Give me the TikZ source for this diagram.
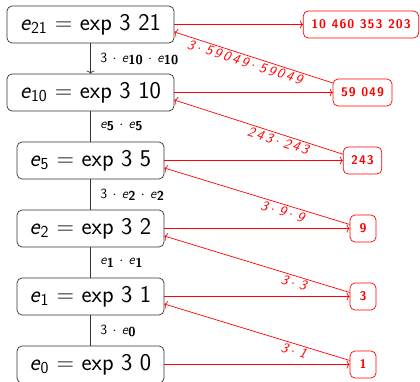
\documentclass[tikz,border=0pt]{standalone}
\usepackage{fontspec}
\usetikzlibrary{arrows.meta}
\newfontfamily\valfont{lmsans10-bold.otf}[LetterSpace=8]
\newfontfamily\slfont{lmsans10-oblique.otf}[LetterSpace=17]
\newcommand\mainE[1]{\textit{e}\textsubscript{#1}}
\newcommand\lblE[1]{\textit{e}\raisebox{-0.35ex}{\fontsize{13}{14}\selectfont\bfseries #1}}
\newcommand\dt{\hspace{5.3pt}$\cdot$\hspace{5.3pt}}
\newcommand\ddt{\hspace{3.5pt}$\cdot$\hspace{4.5pt}}
\begin{document}
\begin{tikzpicture}[x=1pt,y=-1pt,
  leftbox/.style={draw=black!80, rounded corners=5pt, minimum height=37pt, inner sep=0pt, line width=0.7pt,
    font=\sffamily\fontsize{24}{28}\selectfont},
  widebox/.style={minimum width=167pt},
  narrowbox/.style={minimum width=147pt},
  rightbox/.style={draw=red, text=red, rounded corners=5pt, minimum height=27pt, minimum width=26pt,
    inner xsep=8pt, inner ysep=0pt, line width=0.7pt,
    font=\valfont\fontsize{12.5}{14}\selectfont},
  chainline/.style={draw=black!80, line width=0.7pt},
  clabel/.style={anchor=west, inner sep=0pt, xshift=9.5pt,
    font=\sffamily\fontsize{14}{16}\selectfont},
  hot/.style={draw=red, line width=0.7pt},
  tip/.style={-{To[length=3pt,width=8pt]}},
  backtip/.style={{To[length=3pt,width=8pt]}-},
  dlabel/.style={sloped, below, inner sep=1.8pt, text=red,
    font=\slfont\fontsize{14}{16}\selectfont}
]
\useasboundingbox (0,0) rectangle (420,381);

% left chain
\node[leftbox,widebox]   (e21) at (90.5,24.5)  {\mainE{21} = exp 3 21};
\node[leftbox,widebox]   (e10) at (90.5,92.5)  {\mainE{10} = exp 3 10};
\node[leftbox,narrowbox] (e5)  at (90.5,160.5) {\mainE{5} = exp 3 5};
\node[leftbox,narrowbox] (e2)  at (90.5,228.5) {\mainE{2} = exp 3 2};
\node[leftbox,narrowbox] (e1)  at (90.5,296.5) {\mainE{1} = exp 3 1};
\node[leftbox,narrowbox] (e0)  at (90.5,364.5) {\mainE{0} = exp 3 0};

% right values
\node[rightbox] (r21) at (361,24.5)  {10 460 353 203};
\node[rightbox] (r10) at (362.5,92.5)  {59 049};
\node[rightbox] (r5)  at (362.5,160.5) {243};
\node[rightbox] (r2)  at (363,228.5) {9};
\node[rightbox] (r1)  at (363,296.5) {3};
\node[rightbox] (r0)  at (363,364.5) {1};

% chain connectors
\draw[chainline,tip] (e21) -- (e10) node[clabel,midway] {3\dt\lblE{10}\dt\lblE{10}};
\draw[chainline] (e10) -- (e5) node[clabel,midway] {\lblE{5}\dt\lblE{5}};
\draw[chainline] (e5) -- (e2) node[clabel,midway] {3\dt\lblE{2}\dt\lblE{2}};
\draw[chainline] (e2) -- (e1) node[clabel,midway] {\lblE{1}\dt\lblE{1}};
\draw[chainline] (e1) -- (e0) node[clabel,midway] {3\dt\lblE{0}};

% horizontal evaluations
\draw[hot,tip] (e21.east) -- (r21.west);
\draw[hot,tip] (e10.east) -- (r10.west);
\draw[hot,tip] (e5.east) -- (r5.west);
\draw[hot,tip] (e2.east) -- (r2.west);
\draw[hot,tip] (e1.east) -- (r1.west);
\draw[hot,tip] (e0.east) -- (r0.west);

% back computations
\draw[hot,backtip] ([yshift=-7.5pt]e21.east) -- (r10) node[dlabel,pos=0.46] {3\ddt59049\ddt59049};
\draw[hot,backtip] ([yshift=-7.5pt]e10.east) -- (r5)  node[dlabel,pos=0.63] {243\ddt243};
\draw[hot,backtip] ([yshift=-7.5pt]e5.east)  -- (r2)  node[dlabel,pos=0.65] {3\ddt9\ddt9};
\draw[hot,backtip] ([yshift=-7.5pt]e2.east)  -- (r1)  node[dlabel,pos=0.71] {3\ddt3};
\draw[hot,backtip] ([yshift=-7.5pt]e1.east)  -- (r0)  node[dlabel,pos=0.71] {3\ddt1};
\end{tikzpicture}
\end{document}
